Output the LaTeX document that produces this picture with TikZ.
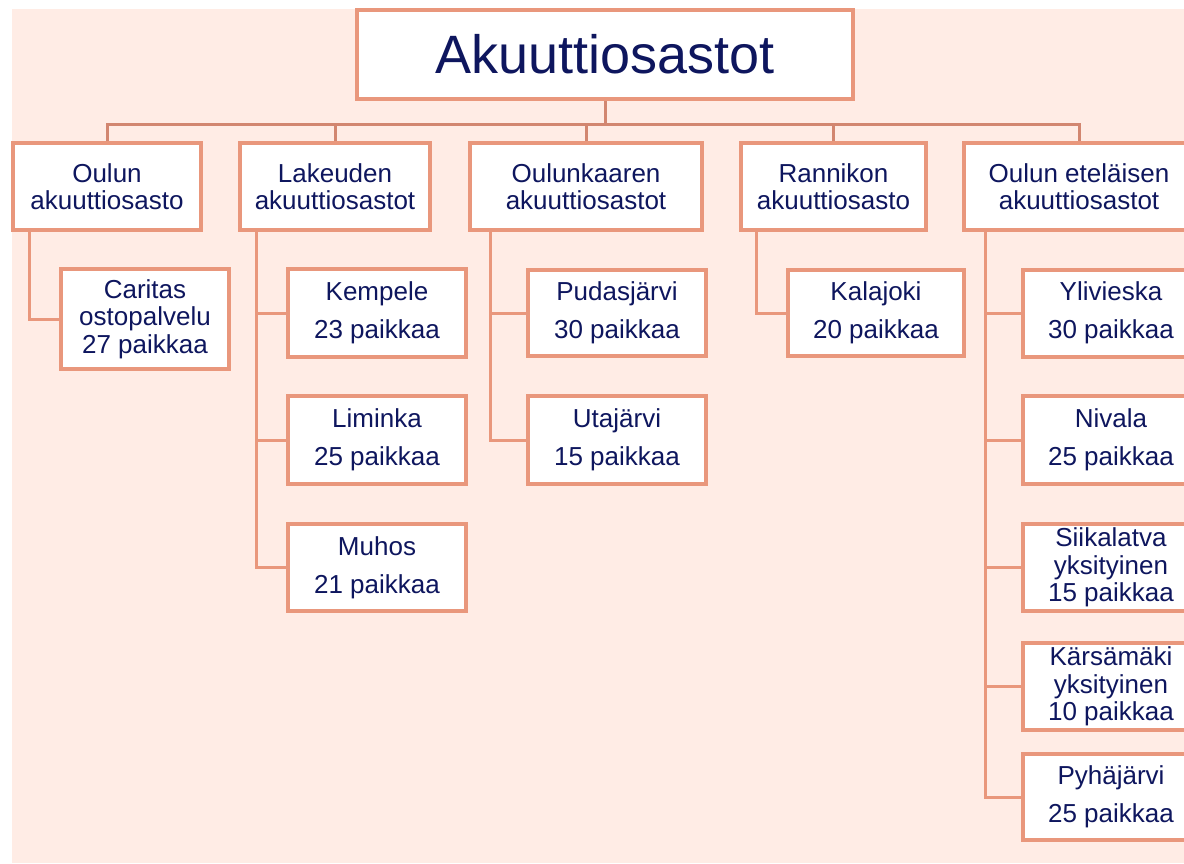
\documentclass[tikz,border=0pt]{standalone}
\usepackage{fontspec}
\setmainfont{Liberation Sans}
\definecolor{bgpink}{RGB}{255,236,229}
\definecolor{boxline}{RGB}{233,151,124}
\definecolor{barline}{RGB}{210,134,112}
\definecolor{navy}{RGB}{14,22,94}
\tikzset{
  base/.style={draw=boxline, line width=4pt, fill=white, text=navy, align=center, inner sep=0pt, rectangle},
  titlebox/.style={base, minimum width=496pt, minimum height=89pt, font=\fontsize{54}{60}\selectfont},
  lvlone/.style={base, minimum height=87pt, font=\fontsize{26}{27}\selectfont},
  twoline/.style={base, minimum width=176pt, minimum height=87pt, font=\fontsize{26}{38}\selectfont, execute at begin node={\rule{0pt}{24.5pt}}},
  threeline/.style={base, minimum width=176pt, minimum height=87pt, font=\fontsize{26}{27.5}\selectfont},
  topconn/.style={draw=barline, line width=3pt},
  subconn/.style={draw=boxline, line width=3pt},
}
\begin{document}
\begin{tikzpicture}[x=1pt, y=-1pt]
\useasboundingbox (0,0) rectangle (1184,863);
\clip (0,0) rectangle (1184,863);
\fill[bgpink] (12,9) rectangle (1184,863);

\coordinate (bar) at (605,124);

% title and level one
\node[titlebox] (top) at (605,54.5) {Akuuttiosastot};
\node[lvlone, minimum width=188pt] (oulu) at (107,186.5) {Oulun\\akuuttiosasto};
\node[lvlone, minimum width=190pt] (lake) at (335,186.5) {Lakeuden\\akuuttiosastot};
\node[lvlone, minimum width=232pt] (kaar) at (586,186.5) {Oulunkaaren\\akuuttiosastot};
\node[lvlone, minimum width=185pt] (rann) at (833.5,186.5) {Rannikon\\akuuttiosasto};
\node[lvlone, minimum width=230pt] (etel) at (1079,186.5) {Oulun eteläisen\\akuuttiosastot};

% level two
\node[threeline, minimum width=168pt, minimum height=100pt] (cari) at (145,319) {Caritas\\ostopalvelu\\27 paikkaa};
\node[twoline, minimum width=178pt, minimum height=88pt] (kemp) at (377,313) {Kempele\\23 paikkaa};
\node[twoline, minimum width=178pt, minimum height=88pt] (limi) at (377,440) {Liminka\\25 paikkaa};
\node[twoline, minimum width=178pt, minimum height=87pt] (muho) at (377,567.5) {Muhos\\21 paikkaa};
\node[twoline, minimum width=178pt, minimum height=86pt] (puda) at (617,313) {Pudasjärvi\\30 paikkaa};
\node[twoline, minimum width=178pt, minimum height=88pt] (utaj) at (617,440) {Utajärvi\\15 paikkaa};
\node[twoline, minimum width=176pt, minimum height=86pt] (kala) at (876,313) {Kalajoki\\20 paikkaa};
\node[twoline] (ylivi) at (1111,313) {Ylivieska\\30 paikkaa};
\node[twoline, minimum height=88pt] (niva) at (1111,440) {Nivala\\25 paikkaa};
\node[threeline] (siik) at (1111,567.5) {Siikalatva\\yksityinen\\15 paikkaa};
\node[threeline] (kars) at (1111,686.5) {Kärsämäki\\yksityinen\\10 paikkaa};
\node[twoline, minimum height=86pt] (pyha) at (1111,797) {Pyhäjärvi\\25 paikkaa};

% top-level connectors
\draw[topconn] (top.south) -- (bar);
\draw[topconn] (oulu.north) -- (oulu.north |- bar) -- (etel.north |- bar) -- (etel.north);
\draw[topconn] (lake.north) -- (lake.north |- bar);
\draw[topconn] (kaar.north) -- (kaar.north |- bar);
\draw[topconn] (rann.north) -- (rann.north |- bar);

% sub connectors
\draw[subconn] ([xshift=18pt]oulu.south west) |- (cari.west);
\draw[subconn] ([xshift=18pt]lake.south west) |- (muho.west);
\draw[subconn] ([xshift=18pt]lake.south west |- kemp.west) -- (kemp.west);
\draw[subconn] ([xshift=18pt]lake.south west |- limi.west) -- (limi.west);
\draw[subconn] ([xshift=22pt]kaar.south west) |- (utaj.west);
\draw[subconn] ([xshift=22pt]kaar.south west |- puda.west) -- (puda.west);
\draw[subconn] ([xshift=17pt]rann.south west) |- (kala.west);
\draw[subconn] ([xshift=23pt]etel.south west) |- (pyha.west);
\draw[subconn] ([xshift=23pt]etel.south west |- ylivi.west) -- (ylivi.west);
\draw[subconn] ([xshift=23pt]etel.south west |- niva.west) -- (niva.west);
\draw[subconn] ([xshift=23pt]etel.south west |- siik.west) -- (siik.west);
\draw[subconn] ([xshift=23pt]etel.south west |- kars.west) -- (kars.west);
\end{tikzpicture}
\end{document}
